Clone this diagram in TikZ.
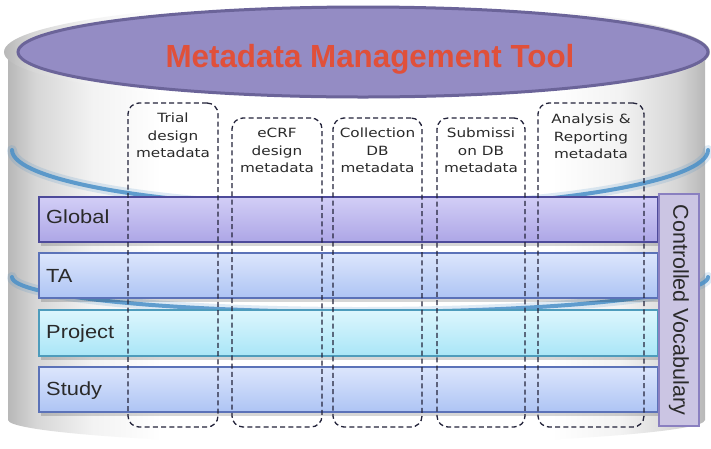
\documentclass[tikz,border=0pt]{standalone}
\usepackage{fontspec}
\setmainfont{Liberation Sans}
\newfontfamily\dvfont{DejaVu Sans}
\usetikzlibrary{shapes.geometric}
\definecolor{ellfill}{HTML}{948CC4}
\definecolor{elldraw}{HTML}{6B6499}
\definecolor{titlered}{HTML}{E0503A}
\definecolor{swooshblue}{HTML}{4A90C8}
\definecolor{txtgray}{HTML}{2A2A2A}
\definecolor{dashcol}{HTML}{23233A}
\definecolor{glTop}{HTML}{D2CEF6}
\definecolor{glBot}{HTML}{ADA6E6}
\definecolor{glDraw}{HTML}{4D4A9A}
\definecolor{taTop}{HTML}{DCE6FC}
\definecolor{taBot}{HTML}{AEC4F4}
\definecolor{taDraw}{HTML}{5B72B8}
\definecolor{prTop}{HTML}{DDF6FD}
\definecolor{prBot}{HTML}{A9E6F7}
\definecolor{prDraw}{HTML}{4E9CBC}
\definecolor{cvFill}{HTML}{CBC5E3}
\definecolor{cvDraw}{HTML}{8A80C0}
\pgfdeclarehorizontalshading{cylshade}{100bp}{color(0bp)=(black!28); color(25bp)=(black!28); color(27bp)=(black!16); color(31bp)=(black!5); color(36bp)=(white); color(64bp)=(white); color(69bp)=(black!5); color(73bp)=(black!16); color(75bp)=(black!28); color(100bp)=(black!28)}
\begin{document}
\begin{tikzpicture}[x=1pt,y=-1pt,
  bar/.style={draw, line width=1.2pt, minimum width=619pt, inner sep=0pt, rectangle},
  barshadow/.style={fill=black, opacity=0.16},
  rowlabel/.style={font=\fontsize{19}{22}\selectfont, text=txtgray, anchor=base west, inner sep=0pt, xscale=1.15, transform shape},
  colbox/.style={draw=dashcol, line width=1.3pt, dash pattern=on 5pt off 3.2pt, rounded corners=11pt, minimum width=#1, inner sep=0pt, rectangle},
  coltext/.style={font=\dvfont\fontsize{12.7}{17.5}\selectfont, text=txtgray, align=center, anchor=north, inner sep=0pt, xscale=1.2, transform shape},
  swoosh/.style={draw=swooshblue, line width=4pt, line cap=round, opacity=0.85},
  swooshglow/.style={draw=swooshblue, line width=10pt, line cap=round, opacity=0.18}
]
\useasboundingbox (0,0) rectangle (711,448);
\fill[white] (0,0) rectangle (711,448);
% cylinder body
\shade[shading=cylshade] (8,52) -- (8,420) .. controls (8,432) and (168,444) .. (356,444) .. controls (544,444) and (705,432) .. (705,420) -- (705,52) -- cycle;
% top face of cylinder
\node[ellipse, shading=cylshade, minimum width=706pt, minimum height=100pt, inner sep=0pt] (topface) at (357,52) {};
% blue swooshes
\draw[swooshglow] (12,150) .. controls (12,181) and (167,208) .. (360,208) .. controls (553,208) and (708,181) .. (708,150);
\draw[swoosh] (12,150) .. controls (12,181) and (167,208) .. (360,208) .. controls (553,208) and (708,181) .. (708,150);
\draw[swooshglow] (12,277) .. controls (12,296) and (167,312) .. (360,312) .. controls (553,312) and (708,296) .. (708,277);
\draw[swoosh] (12,277) .. controls (12,296) and (167,312) .. (360,312) .. controls (553,312) and (708,296) .. (708,277);
% purple ellipse
\node[ellipse, fill=ellfill, draw=elldraw, line width=3pt, minimum width=690pt, minimum height=90pt, inner sep=0pt] (mmt) at (363,52) {};
\node[font=\bfseries\fontsize{32}{36}\selectfont, text=titlered, anchor=base, inner sep=0pt, xscale=0.98, transform shape] (title) at (370,67) {Metadata Management Tool};
% bar shadows
\fill[barshadow] (41,201) rectangle (660,246);
\fill[barshadow] (41,257) rectangle (660,302);
\fill[barshadow] (41,314) rectangle (660,360);
\fill[barshadow] (41,371) rectangle (660,416);
% bars
\node[bar, draw=glDraw, minimum height=45pt, top color=glTop, bottom color=glBot] (global) at (348.5,219.5) {};
\node[bar, draw=taDraw, minimum height=45pt, top color=taTop, bottom color=taBot] (ta) at (348.5,275.5) {};
\node[bar, draw=prDraw, minimum height=46pt, top color=prTop, bottom color=prBot] (project) at (348.5,333) {};
\node[bar, draw=taDraw, minimum height=45pt, top color=taTop, bottom color=taBot] (study) at (348.5,389.5) {};
% row labels
\node[rowlabel] (lglobal) at (46,223) {Global};
\node[rowlabel] (lta) at (46,282) {TA};
\node[rowlabel] (lproject) at (46,338) {Project};
\node[rowlabel] (lstudy) at (46,395) {Study};
% controlled vocabulary
\node[draw=cvDraw, fill=cvFill, line width=1.5pt, minimum width=40pt, minimum height=232pt, inner sep=0pt] (cv) at (679,310) {};
\node[font=\fontsize{21.5}{24}\selectfont, text=txtgray, rotate=-90, inner sep=0pt] (cvtext) at (cv.center) {Controlled Vocabulary};
% dashed columns
\node[colbox=90pt, minimum height=324pt] (c1) at (173,265) {};
\node[colbox=90pt, minimum height=309pt] (c2) at (277,272.5) {};
\node[colbox=89pt, minimum height=309pt] (c3) at (377.5,272.5) {};
\node[colbox=88pt, minimum height=309pt] (c4) at (481,272.5) {};
\node[colbox=106pt, minimum height=324pt] (c5) at (591,265) {};
% column texts
\node[coltext] (t1) at (173,113) {Trial\\design\\metadata};
\node[coltext] (t2) at (277,128) {eCRF\\design\\metadata};
\node[coltext] (t3) at (377.5,128) {Collection\\DB\\metadata};
\node[coltext] (t4) at (481,128) {Submissi\\on DB\\metadata};
\node[coltext] (t5) at (591,114) {Analysis \&\\Reporting\\metadata};
\end{tikzpicture}
\end{document}
